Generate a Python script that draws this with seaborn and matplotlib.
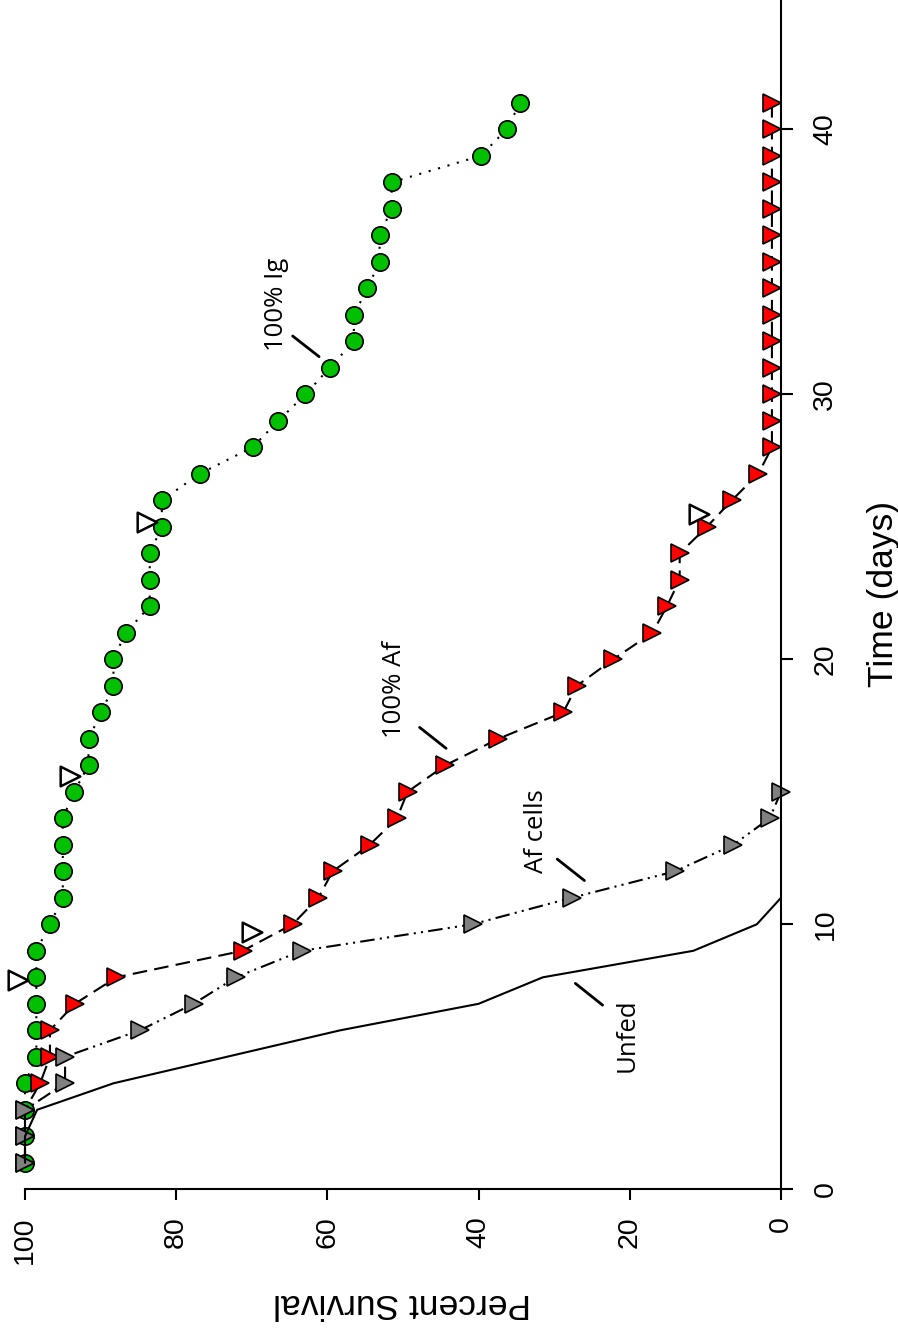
import matplotlib
matplotlib.use("Agg")
import matplotlib.pyplot as plt
import seaborn as sns
import pandas as pd

# values: time (days) and percent survival per group
days_unfed = [1, 2, 3, 4, 5, 6, 7, 8, 9, 10, 11]
surv_unfed = [100, 100, 98.4, 88.3, 73.3, 58.3, 40.0, 31.5, 11.6, 3.2, 0.0]

days_afcells = [1, 2, 3, 4, 5, 6, 7, 8, 9, 10, 11, 12, 13, 14, 15]
surv_afcells = [100, 100, 100, 94.7, 94.7, 84.8, 77.7, 72.1, 63.4, 40.8, 27.7, 14.0, 6.3, 1.5, 0.0]

days_af = list(range(1, 42))
surv_af = [100, 100, 100, 98.0, 96.7, 96.7, 93.4, 87.9, 71.2, 64.6,
           61.2, 59.3, 54.4, 50.8, 49.4, 44.4, 37.4, 28.8, 27.0, 22.2,
           17.0, 15.1, 13.4, 13.4, 9.8, 6.5, 3.0, 1.2, 1.2, 1.2,
           1.2, 1.2, 1.2, 1.2, 1.2, 1.2, 1.2, 1.2, 1.2, 1.2, 1.2]

days_ig = list(range(1, 42))
surv_ig = [100, 100, 100, 100, 98.5, 98.5, 98.5, 98.5, 98.5, 96.7,
           95.0, 95.0, 95.0, 95.0, 93.5, 91.6, 91.6, 89.9, 88.3, 88.3,
           86.7, 83.5, 83.5, 83.5, 81.9, 81.9, 76.9, 69.9, 66.5, 62.9,
           59.7, 56.5, 56.5, 54.7, 53.1, 53.1, 51.5, 51.5, 39.7, 36.3, 34.5]

# open triangles
cens_days = [7.9, 9.7, 15.6, 25.2, 25.5]
cens_surv = [100.9, 70.0, 94.0, 83.8, 10.8]

# in-plot labels and their leader lines
lab_text = ["100% Ig", "100% Af", "Af cells", "Unfed"]
lab_surv = [66.7, 51.1, 32.3, 20.4]
lab_days = [33.4, 18.85, 13.5, 5.82]
lead_surv = [(64.6, 61.1), (47.8, 44.3), (29.6, 26.0), (27.2, 23.6)]
lead_days = [(32.2, 31.42), (17.43, 16.64), (12.46, 11.65), (7.77, 6.95)]

surv_ticks = [0, 20, 40, 60, 80, 100]
day_ticks = [0, 10, 20, 30, 40]

sns.set_style("ticks")
plt.rcParams["font.family"] = ["Liberation Sans", "DejaVu Sans"]
plt.rcParams.update({"text.color": "black", "axes.labelcolor": "black",
                     "xtick.color": "black", "ytick.color": "black",
                     "axes.edgecolor": "black"})

fig = plt.figure(figsize=(8.98, 13.31), dpi=100)
ax = fig.add_axes([25 / 898, 1 - 1189.3 / 1331, 756 / 898, 1189.3 / 1331])

# the figure is drawn turned by 90 degrees: survival runs right->left, time bottom->top
grupos = [
    (days_ig, surv_ig, (0, (1, 3.7)), "o", "#00C000"),
    (days_af, surv_af, (0, (7, 3.5)), ">", "#FF0000"),
    (days_afcells, surv_afcells, (0, (7, 2.5, 1, 2.5, 1, 2.5)), ">", "#808080"),
]
for d, s, ls, mk, cor in grupos:
    df = pd.DataFrame({"dias": d, "surv": s})
    sns.lineplot(data=df, x="surv", y="dias", sort=False, estimator=None, ax=ax,
                 color="black", lw=1.5, linestyle=ls, marker=mk, markersize=12.5,
                 markerfacecolor=cor, markeredgecolor="black", markeredgewidth=1.2,
                 clip_on=False)

df_unfed = pd.DataFrame({"dias": days_unfed, "surv": surv_unfed})
sns.lineplot(data=df_unfed, x="surv", y="dias", sort=False, estimator=None, ax=ax,
             color="black", lw=1.5, clip_on=False)

df_cens = pd.DataFrame({"dias": cens_days, "surv": cens_surv})
sns.scatterplot(data=df_cens, x="surv", y="dias", ax=ax, marker=">", s=200,
                facecolor="white", edgecolor="black", linewidth=1.8, clip_on=False,
                zorder=5)

for txt, xs, ys, (x0, x1), (y0, y1) in zip(lab_text, lab_surv, lab_days, lead_surv, lead_days):
    ax.text(xs, ys, txt, rotation=90, ha="center", va="center", fontsize=18.5,
            color="black", family=["Open Sans", "DejaVu Sans"])
    ax.plot([x0, x1], [y0, y1], color="black", lw=2)

ax.set_xlim(100, 0)
ax.set_ylim(0, 1189.3 / 26.5)
ax.set_xticks(surv_ticks)
ax.set_yticks(day_ticks)
ax.yaxis.tick_right()

for side in ["left", "top"]:
    ax.spines[side].set_visible(False)
for side in ["bottom", "right"]:
    ax.spines[side].set_linewidth(1.5)
    ax.spines[side].set_color("black")

ax.tick_params(axis="x", direction="out", length=8, width=1.5, pad=11.5,
               labelrotation=90, labelsize=20.5, colors="black")
ax.tick_params(axis="y", direction="out", length=8.6, width=1.5, pad=14,
               labelrotation=90, labelsize=20.5, colors="black")
for lbl in ax.get_yticklabels():
    lbl.set_va("center")

ax.set_xlabel("Percent Survival", rotation=180, fontsize=25.5, va="center", ha="center",
              color="black")
ax.xaxis.set_label_coords((402 - 25) / 756, (1189.3 - 1303) / 1189.3)
ax.yaxis.set_label_position("right")
ax.set_ylabel("Time (days)", rotation=90, fontsize=25.5, va="center", ha="center",
              color="black")
ax.yaxis.set_label_coords((884 - 25) / 756, (1189.3 - 593.5) / 1189.3)

fig.savefig("out.png", dpi=100)
